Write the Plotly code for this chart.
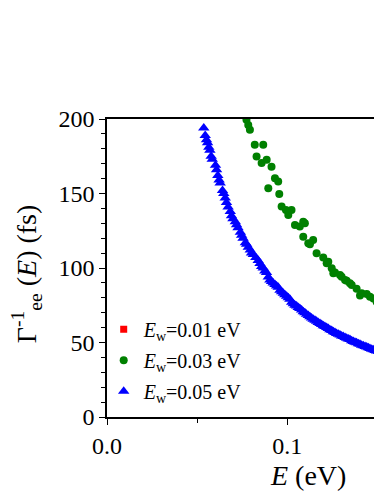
import plotly.graph_objects as go

# E (eV) and inverse e-e scattering rate (fs) for each well-width setting
e_w001 = [None]
t_w001 = [None]

e_w003 = [0.0774, 0.0784, 0.0793, 0.0820, 0.0830, 0.0858, 0.0867, 0.0886, 0.0895,
          0.0913, 0.0932, 0.0950, 0.0956, 0.0969, 0.0993, 0.1006, 0.1024, 0.1043,
          0.1070, 0.1089, 0.1098, 0.1089, 0.1117, 0.1126, 0.1144, 0.1163, 0.1200,
          0.1219, 0.1228, 0.1247, 0.1256, 0.1265, 0.1293, 0.1302, 0.1321, 0.1330,
          0.1348, 0.1358, 0.1385, 0.1404, 0.1413, 0.1441, 0.1459, 0.1478, 0.1496,
          0.1515]
t_w003 = [199.5, 196.0, 192.8, 182.7, 174.8, 170.4, 182.7, 172.6, 153.6,
          168.0, 160.3, 158.0, 149.6, 141.2, 139.0, 135.6, 139.0, 128.9,
          127.8, 131.0, 130.0, 121.0, 116.6, 116.0, 118.8, 109.9, 107.0,
          103.2, 104.2, 99.8, 96.4, 97.0, 95.3, 94.1, 92.0, 91.5,
          89.7, 88.6, 86.0, 81.5, 83.0, 82.5, 80.7, 79.6, 77.3,
          74.5]

e_w005 = [0.0537, 0.0545, 0.0552, 0.0558, 0.0565, 0.0571, 0.0578, 0.0584, 0.0602,
          0.0608, 0.0615, 0.0622, 0.0628, 0.0641, 0.0648, 0.0656, 0.0663, 0.0672,
          0.0684, 0.0691, 0.0699, 0.0712, 0.0719, 0.0727, 0.0740, 0.0747, 0.0755,
          0.0768, 0.0775, 0.0784, 0.0795, 0.0802, 0.0812, 0.0826, 0.0839, 0.0849,
          0.0858, 0.0867, 0.0876, 0.0885, 0.0895, 0.0904, 0.0913, 0.0922, 0.0932,
          0.0941, 0.0950, 0.0960, 0.0969, 0.0978, 0.0987, 0.0997, 0.1006, 0.1015,
          0.1025, 0.1034, 0.1043, 0.1052, 0.1061, 0.1070, 0.1080, 0.1089, 0.1098,
          0.1107, 0.1117, 0.1126, 0.1135, 0.1144, 0.1154, 0.1163, 0.1172, 0.1182,
          0.1191, 0.1200, 0.1209, 0.1219, 0.1228, 0.1237, 0.1247, 0.1256, 0.1265,
          0.1274, 0.1284, 0.1293, 0.1302, 0.1311, 0.1321, 0.1330, 0.1339, 0.1348,
          0.1358, 0.1367, 0.1376, 0.1385, 0.1395, 0.1404, 0.1413, 0.1422, 0.1432,
          0.1441, 0.1450, 0.1459, 0.1469, 0.1478, 0.1487, 0.1496, 0.1506, 0.1515,
          0.1524]
t_w005 = [194, 189, 186, 184, 181, 179, 175, 173, 169,
          166, 162, 159, 157, 152, 150, 147, 144, 141,
          138, 135, 133, 131, 129, 127, 124, 122, 120,
          117, 116, 114, 112, 110, 109, 107, 105, 103,
          101, 100, 98, 97, 94, 92, 91, 90, 89,
          88, 87, 85, 84, 83, 82, 81, 80, 79,
          77, 76, 75, 74.5, 73.5, 72.8, 71.8, 70.6, 69.9,
          69.0, 68.1, 67.2, 66.4, 65.6, 65.0, 64.2, 63.5, 62.8,
          62.0, 61.3, 60.8, 60.0, 59.4, 58.5, 58.0, 57.2, 56.7,
          56.0, 55.6, 55.0, 54.4, 54.0, 53.3, 52.9, 52.4, 52.0,
          51.2, 50.6, 50.1, 49.8, 49.2, 48.8, 48.2, 47.8, 47.3,
          46.9, 46.4, 46.0, 45.5, 45.1, 44.7, 44.3, 43.9, 43.5,
          43.1]

font = "Liberation Serif"

fig = go.Figure()
fig.add_trace(go.Scatter(x=e_w001, y=t_w001, mode="markers", legendgroup="a",
                         name="<i>E</i><sub>w</sub>=0.01 eV",
                         marker=dict(symbol="square", size=7, color="#ff0000")))
fig.add_trace(go.Scatter(x=e_w003, y=t_w003, mode="markers", legendgroup="b",
                         name="<i>E</i><sub>w</sub>=0.03 eV",
                         marker=dict(symbol="circle", size=8, color="#008000")))
fig.add_trace(go.Scatter(x=e_w005, y=t_w005, mode="markers", legendgroup="c",
                         name="<i>E</i><sub>w</sub>=0.05 eV",
                         marker=dict(symbol="triangle-up", size=10, color="#0000ff")))

# page body adds 8px margin, so the figure is sized to fit the window
fig.update_layout(
    width=374, height=486,
    margin=dict(l=99, r=0, t=111, b=77, autoexpand=False),
    plot_bgcolor="white", paper_bgcolor="white",
    font=dict(family=font, size=24, color="black"),
    showlegend=True,
    legend=dict(x=-0.012, y=0.36, xanchor="left", yanchor="top",
                bgcolor="rgba(0,0,0,0)", font=dict(size=20), tracegroupgap=2),
    annotations=[
        dict(text="<i>E</i> (eV)", xref="paper", yref="paper", x=0.73, y=-0.195,
             xanchor="center", yanchor="middle", showarrow=False,
             font=dict(size=28)),
        dict(text="Γ<sup>-1</sup><sub>ee</sub> (<i>E</i>) (fs)", xref="paper",
             yref="paper", x=-0.29, y=0.48, textangle=-90,
             xanchor="center", yanchor="middle", showarrow=False,
             font=dict(size=28)),
    ],
)

fig.update_xaxes(range=[0, 0.1526], tickvals=[0.0, 0.1], ticktext=["0.0", "0.1"],
                 showgrid=False, zeroline=False, showline=True, linecolor="black",
                 linewidth=1.5, mirror=True, ticks="outside", ticklen=6,
                 tickwidth=1.2, tickcolor="black",
                 minor=dict(tickvals=[0.05, 0.15], ticks="outside", ticklen=4,
                            tickwidth=1.2, tickcolor="black"))
fig.update_yaxes(range=[0, 200], dtick=50, showgrid=False, zeroline=False,
                 showline=True, linecolor="black", linewidth=1.5,
                 ticks="outside", ticklen=6, tickwidth=1.2, tickcolor="black",
                 minor=dict(dtick=10, ticks="outside", ticklen=4,
                            tickwidth=1.2, tickcolor="black"))

fig.write_html("out.html")
